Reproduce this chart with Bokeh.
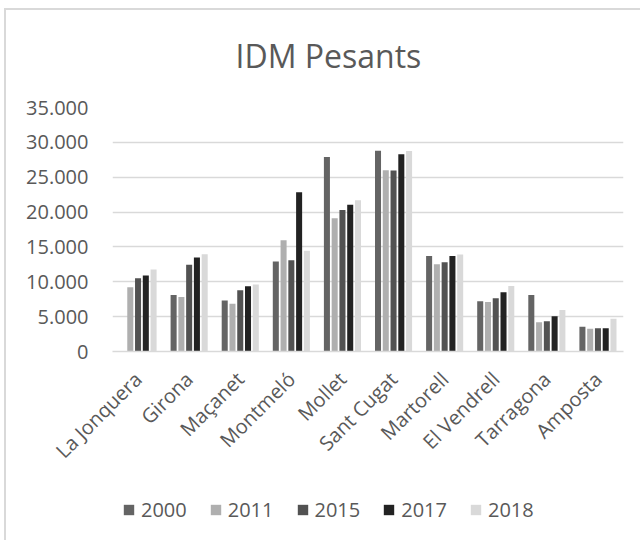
import math
from bokeh.plotting import figure
from bokeh.layouts import column
from bokeh.models import ColumnDataSource, FactorRange, Legend, LegendItem, FixedTicker
from bokeh.transform import dodge
from bokeh.embed import file_html
from bokeh.resources import INLINE

cities = ["La Jonquera", "Girona", "Maçanet", "Montmeló", "Mollet",
          "Sant Cugat", "Martorell", "El Vendrell", "Tarragona", "Amposta"]
years = ["2000", "2011", "2015", "2017", "2018"]
y2000 = [0, 8100, 7300, 12900, 27900, 28800, 13700, 7200, 8100, 3550]
y2011 = [9200, 7800, 6850, 15950, 19100, 26000, 12500, 7100, 4200, 3250]
y2015 = [10500, 12450, 8800, 13100, 20300, 25950, 12800, 7650, 4350, 3350]
y2017 = [10900, 13500, 9350, 22850, 21050, 28300, 13700, 8500, 5050, 3350]
y2018 = [11750, 13950, 9600, 14450, 21700, 28750, 13900, 9400, 5950, 4700]
y_ticks = [0, 5000, 10000, 15000, 20000, 25000, 30000, 35000]
y_tick_labels = ["0", "5.000", "10.000", "15.000", "20.000", "25.000", "30.000", "35.000"]

colors = ["#646464", "#afafaf", "#525252", "#222222", "#d9d9d9"]
offsets = [-0.304, -0.152, 0.0, 0.152, 0.304]

src = ColumnDataSource(dict(city=cities, y2000=y2000, y2011=y2011, y2015=y2015,
                            y2017=y2017, y2018=y2018))

p = figure(x_range=FactorRange(*cities), y_range=(0, 35000), width=640, height=478,
           output_backend="svg", toolbar_location=None,
           min_border_left=112, min_border_right=17, min_border_top=107,
           min_border_bottom=127)
p.outline_line_color = None
p.border_fill_color = None

for yr, col, off in zip(years, colors, offsets):
    p.vbar(x=dodge("city", off, range=p.x_range), top="y" + yr, width=0.118,
           source=src, fill_color=col, line_color=None)

p.title.text = "IDM Pesants"
p.title.align = "left"
p.title.offset = 123
p.title.text_font = "Open Sans"
p.title.text_font_size = "32px"
p.title.text_font_style = "normal"
p.title.text_color = "#595959"
p.title.standoff = 61

p.xgrid.grid_line_color = None
p.ygrid.grid_line_color = "#d9d9d9"
p.ygrid.grid_line_width = 1.5
p.ygrid.ticker = FixedTicker(ticks=y_ticks)

p.yaxis.ticker = FixedTicker(ticks=y_ticks)
p.yaxis.major_label_overrides = {t: l for t, l in zip(y_ticks, y_tick_labels)}
p.yaxis.axis_line_color = None
p.yaxis.major_tick_line_color = None
p.yaxis.minor_tick_line_color = None
p.yaxis.major_tick_out = 0
p.yaxis.major_label_standoff = 24
p.yaxis.major_label_text_font = "Open Sans"
p.yaxis.major_label_text_font_size = "20px"
p.yaxis.major_label_text_color = "#595959"

p.xaxis.axis_line_color = "#d9d9d9"
p.xaxis.axis_line_width = 1.5
p.xaxis.major_tick_line_color = None
p.xaxis.minor_tick_line_color = None
p.xaxis.major_tick_out = 0
p.xaxis.major_label_orientation = math.pi / 4
p.xaxis.major_label_standoff = 24
p.xaxis.major_label_text_font = "Open Sans"
p.xaxis.major_label_text_font_size = "20px"
p.xaxis.major_label_text_color = "#595959"

# legend strip (series renderers hidden, only the legend swatches show)
q = figure(width=640, height=62, output_backend="svg", toolbar_location=None,
           min_border=0, x_range=FactorRange(*cities), y_range=(-2, -1),
           x_axis_location=None, y_axis_location=None)
q.grid.visible = False
q.outline_line_color = None
q.border_fill_color = None
q.background_fill_color = None
items = []
for yr, col in zip(years, colors):
    r = q.vbar(x="city", top="y" + yr, width=0.1, source=src,
               fill_color=col, line_color=None, visible=False)
    items.append(LegendItem(label=yr, renderers=[r]))
legend = Legend(items=items, orientation="horizontal", location=(10, 17),
                glyph_width=13, glyph_height=13, label_standoff=6, spacing=22,
                label_text_font="Open Sans", label_text_font_size="20px",
                label_text_color="#595959", border_line_color=None,
                background_fill_alpha=0, padding=0, margin=0,
                inactive_fill_alpha=0)
q.add_layout(legend)

layout = column(p, q, spacing=0, styles={
    "background-image": "linear-gradient(#d9d9d9, #d9d9d9), linear-gradient(#d9d9d9, #d9d9d9)",
    "background-position": "4px 8px, 4px 8px",
    "background-size": "2px 100%, 100% 2px",
    "background-repeat": "no-repeat",
})
open("out.html", "w").write(file_html(layout, INLINE))
